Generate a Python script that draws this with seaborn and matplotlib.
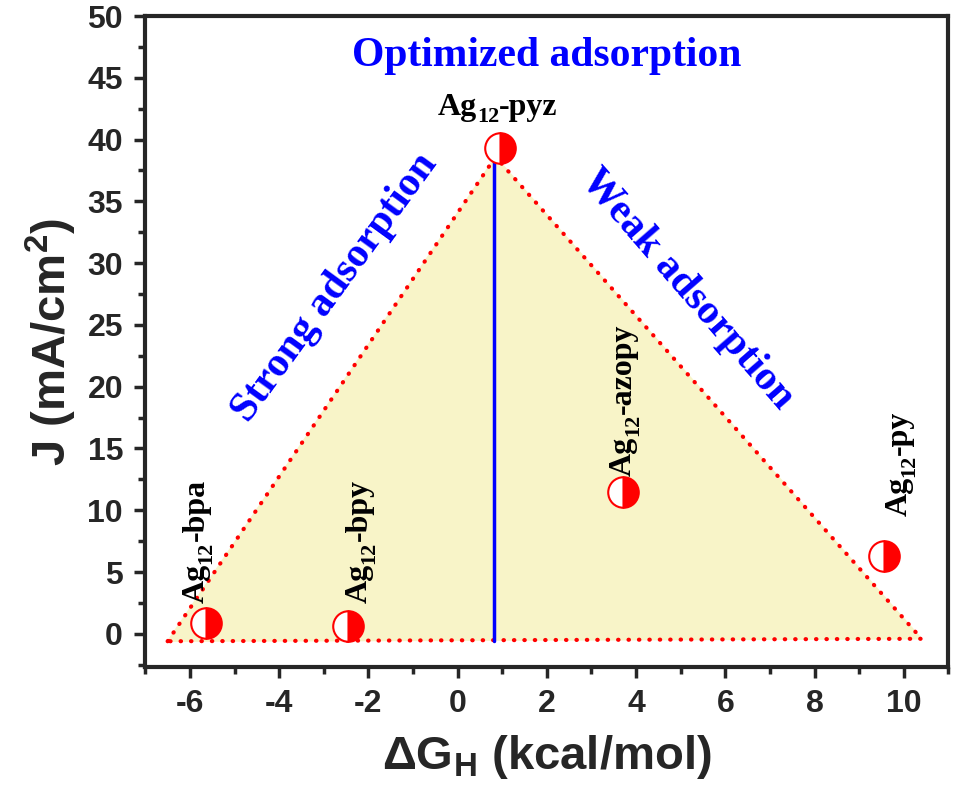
import numpy as np
import matplotlib
matplotlib.use('Agg')
import matplotlib.pyplot as plt
import seaborn as sns

# data
dG = [-5.65, -2.45, 0.95, 3.7, 9.55]
J = [0.9, 0.6, 39.3, 11.5, 6.3]
names = ['bpa', 'bpy', 'pyz', 'azopy', 'py']

# volcano triangle corners
tri_x = [-6.5, 0.85, 10.4]
tri_y = [-0.6, 38.6, -0.4]
opt_x = 0.82

sns.set_style('ticks')
plt.rcParams['font.family'] = ['Liberation Sans', 'DejaVu Sans']
plt.rcParams['font.weight'] = 'bold'
plt.rcParams['axes.unicode_minus'] = False
plt.rcParams['mathtext.fontset'] = 'custom'
plt.rcParams['mathtext.rm'] = 'Liberation Sans:bold'
plt.rcParams['mathtext.sf'] = 'Liberation Sans:bold'
plt.rcParams['mathtext.bf'] = 'Liberation Sans:bold'
plt.rcParams['mathtext.it'] = 'Liberation Sans:bold'

fig = plt.figure(figsize=(9.56, 8.0), dpi=100)
ax = fig.add_axes([0.152, 0.166, 0.840, 0.814])

ax.fill(tri_x, tri_y, color='#F8F4C8', zorder=1)
ax.plot(tri_x + [tri_x[0]], tri_y + [tri_y[0]], color='red', lw=3,
        linestyle=(0, (0.1, 2.4)), dash_capstyle='round', zorder=2)
ax.plot([opt_x, opt_x], [tri_y[0], tri_y[1] - 0.4], color='blue', lw=2.5, zorder=3)

sns.lineplot(x=dG, y=J, ax=ax, sort=False, estimator=None, linestyle='',
             marker='o', markersize=22, fillstyle='right',
             markerfacecolor='red', markerfacecoloralt='white',
             markeredgecolor='red', markeredgewidth=1.5, zorder=4)

serif = dict(family='Liberation Serif', fontweight='bold', color='black')


def ag_label(x, y, name, rot):
    # Ag + lowered "12" + "-name", built from three text pieces
    if rot == 90:
        ag = ax.text(x, y, 'Ag', rotation=90, rotation_mode='anchor',
                     ha='left', va='center', fontsize=23, zorder=5, **serif)
        sub = ax.annotate('12', xy=(1, 1), xycoords=ag, rotation=90, rotation_mode='anchor',
                          ha='left', va='baseline', fontsize=16, **serif)
        ax.annotate('-' + name, xy=(1, 1), xycoords=(ag, sub), rotation=90,
                    rotation_mode='anchor', ha='left', va='bottom', fontsize=23, **serif)
    else:
        ag = ax.text(x, y, 'Ag', ha='left', va='baseline', fontsize=23, zorder=5, **serif)
        sub = ax.annotate('12', xy=(1, 0), xycoords=ag, ha='left', va='baseline',
                          fontsize=16, **serif)
        ax.annotate('-' + name, xy=(1, 0), xycoords=(sub, ag), ha='left', va='bottom',
                    fontsize=23, **serif)


ag_label(-0.45, 42.0, 'pyz', 0)
ag_label(-5.85, 2.5, 'bpa', 90)
ag_label(-2.2, 2.5, 'bpy', 90)
ag_label(3.72, 12.8, 'azopy', 90)
ag_label(9.9, 9.5, 'py', 90)

ax.text(2.0, 46.8, 'Optimized adsorption', ha='center', va='center', fontsize=30,
        family='Liberation Serif', fontweight='bold', color='blue')
ax.text(-2.75, 28.0, 'Strong adsorption', ha='center', va='center', rotation=54,
        fontsize=30, family='Liberation Serif', fontweight='bold', color='blue')
ax.text(5.15, 27.9, 'Weak adsorption', ha='center', va='center', rotation=-49,
        fontsize=30, family='Liberation Serif', fontweight='bold', color='blue')

ax.set_xlim(-7, 11)
ax.set_ylim(-2.7, 50)
ax.set_xticks(np.arange(-6, 11, 2))
ax.set_xticks(np.arange(-7, 12, 1), minor=True)
ax.set_yticks(np.arange(0, 51, 5))
ax.set_yticks(np.arange(-2.5, 50, 2.5), minor=True)
ax.tick_params(which='major', direction='out', length=8, width=2.5, labelsize=23, pad=8)
ax.tick_params(which='minor', direction='out', length=5, width=2.5)
for lbl in ax.get_xticklabels() + ax.get_yticklabels():
    lbl.set_fontweight('bold')
for s in ax.spines.values():
    s.set_linewidth(3)
    s.set_visible(True)

ax.set_xlabel(r'$\mathsf{\Delta G_H}$ (kcal/mol)', fontsize=34, fontweight='bold', labelpad=10)
ax.set_ylabel(r'J (mA/cm$^\mathsf{2}$)', fontsize=34, fontweight='bold', labelpad=6)

fig.savefig('out.png', dpi=100)
